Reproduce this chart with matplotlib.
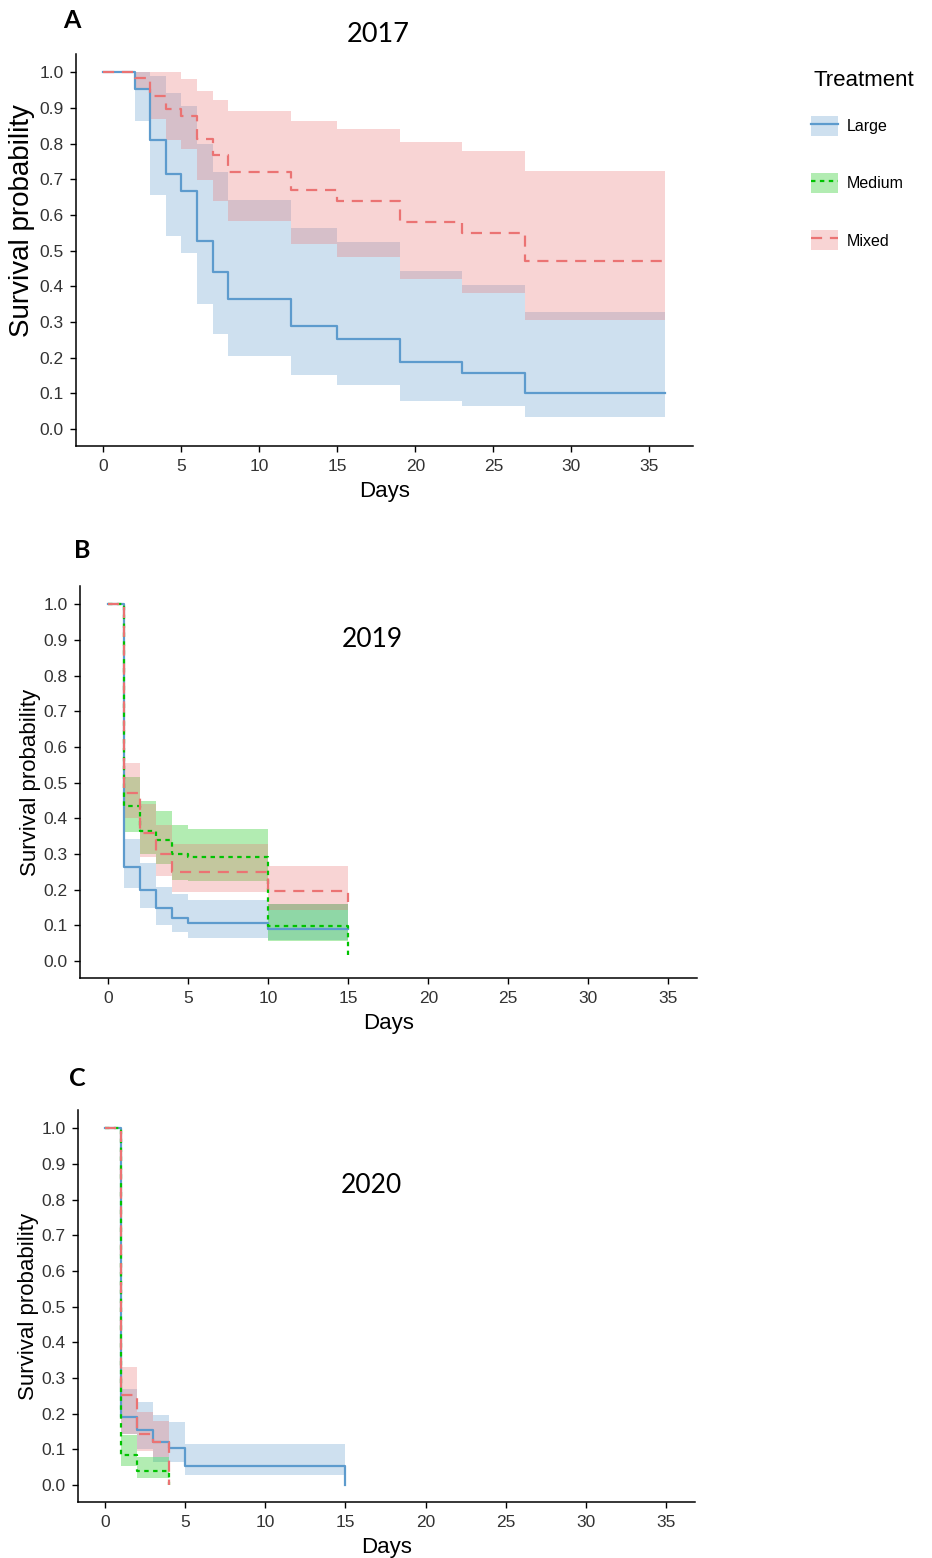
import numpy as np
import matplotlib
matplotlib.use('Agg')
import matplotlib.pyplot as plt
from matplotlib.patches import Patch
from matplotlib.lines import Line2D

# Kolory grup (ggsurvplot, alpha 0.3 dla przedzialow ufnosci)
kolory = {'Large': '#5D9BCD', 'Medium': '#00C300', 'Mixed': '#EB7373'}
style = {'Large': '-', 'Medium': (0, (2, 2)), 'Mixed': (0, (5, 3.5))}
grupy = ['Large', 'Medium', 'Mixed']
lata = ['2017', '2019', '2020']
litery = ['A', 'B', 'C']

# --- 2017 ---
a_large_t = [0, 2, 3, 4, 5, 6, 7, 8, 12, 15, 19, 23, 27, 36]
a_large_s = [1.0, 0.952, 0.810, 0.714, 0.667, 0.528, 0.441, 0.364, 0.289, 0.252, 0.188, 0.158, 0.100, 0.100]
a_large_up = [1.0, 1.0, 0.99, 0.941, 0.905, 0.798, 0.720, 0.642, 0.564, 0.525, 0.444, 0.403, 0.328, 0.328]
a_large_lo = [1.0, 0.864, 0.656, 0.542, 0.493, 0.350, 0.267, 0.205, 0.150, 0.123, 0.079, 0.063, 0.032, 0.032]

a_mixed_t = [0, 2, 3, 4, 5, 6, 7, 8, 12, 15, 19, 23, 27, 36]
a_mixed_s = [1.0, 0.984, 0.934, 0.896, 0.877, 0.812, 0.768, 0.720, 0.669, 0.639, 0.580, 0.549, 0.471, 0.471]
a_mixed_up = [1.0, 1.0, 1.0, 1.0, 0.980, 0.946, 0.922, 0.891, 0.862, 0.840, 0.805, 0.780, 0.722, 0.722]
a_mixed_lo = [1.0, 0.95, 0.869, 0.810, 0.785, 0.698, 0.640, 0.582, 0.519, 0.483, 0.420, 0.382, 0.306, 0.306]

# --- 2019 ---
b_large_t = [0, 1, 2, 3, 4, 5, 10, 15]
b_large_s = [1.0, 0.264, 0.200, 0.147, 0.121, 0.105, 0.088, 0.088]
b_large_up = [1.0, 0.343, 0.275, 0.208, 0.187, 0.170, 0.160, 0.160]
b_large_lo = [1.0, 0.203, 0.147, 0.100, 0.080, 0.065, 0.058, 0.058]

b_medium_t = [0, 1, 2, 3, 4, 5, 10, 15]
b_medium_s = [1.0, 0.434, 0.364, 0.340, 0.301, 0.290, 0.098, 0.016]
b_medium_up = [1.0, 0.516, 0.448, 0.420, 0.382, 0.369, 0.160, 0.0]
b_medium_lo = [1.0, 0.362, 0.301, 0.273, 0.228, 0.223, 0.055, 0.0]

b_mixed_t = [0, 1, 2, 3, 4, 10, 15]
b_mixed_s = [1.0, 0.472, 0.359, 0.301, 0.250, 0.196, 0.165]
b_mixed_up = [1.0, 0.555, 0.441, 0.382, 0.329, 0.267, 0.267]
b_mixed_lo = [1.0, 0.401, 0.292, 0.237, 0.193, 0.144, 0.144]

# --- 2020 ---
c_large_t = [0, 1, 2, 3, 4, 5, 15]
c_large_s = [1.0, 0.189, 0.154, 0.120, 0.103, 0.053, 0.0]
c_large_up = [1.0, 0.270, 0.231, 0.195, 0.175, 0.114, 0.0]
c_large_lo = [1.0, 0.142, 0.100, 0.065, 0.065, 0.027, 0.0]

c_medium_t = [0, 1, 2, 4]
c_medium_s = [1.0, 0.084, 0.039, 0.0]
c_medium_up = [1.0, 0.139, 0.077, 0.0]
c_medium_lo = [1.0, 0.053, 0.018, 0.0]

c_mixed_t = [0, 1, 2, 3, 4]
c_mixed_s = [1.0, 0.252, 0.142, 0.119, 0.0]
c_mixed_up = [1.0, 0.330, 0.204, 0.179, 0.0]
c_mixed_lo = [1.0, 0.142, 0.095, 0.077, 0.0]

dane = [
    {'Large': (a_large_t, a_large_s, a_large_up, a_large_lo),
     'Mixed': (a_mixed_t, a_mixed_s, a_mixed_up, a_mixed_lo)},
    {'Large': (b_large_t, b_large_s, b_large_up, b_large_lo),
     'Medium': (b_medium_t, b_medium_s, b_medium_up, b_medium_lo),
     'Mixed': (b_mixed_t, b_mixed_s, b_mixed_up, b_mixed_lo)},
    {'Large': (c_large_t, c_large_s, c_large_up, c_large_lo),
     'Medium': (c_medium_t, c_medium_s, c_medium_up, c_medium_lo),
     'Mixed': (c_mixed_t, c_mixed_s, c_mixed_up, c_mixed_lo)},
]

W, H = 932, 1558
fig = plt.figure(figsize=(W / 100, H / 100), dpi=100)


def px_axes(left, top, right, bottom):
    return fig.add_axes([left / W, 1 - bottom / H, (right - left) / W, (bottom - top) / H])


# polozenie osi w pikselach (lewo, gora, prawo, dol) i zakres x
uklad = [((76, 54, 693, 446), (-1.75, 37.8)),
         ((80, 586, 697, 978), (-1.77, 36.8)),
         ((78, 1110, 695, 1502), (-1.67, 36.8))]
polozenie_liter = [(72, 20), (82, 551), (77, 1078)]
rozmiar_ylabel = [20, 16, 16]
srodek_ylabel = [0.574, 0.5, 0.5]
x_ylabel = [-0.066, -0.063, -0.064]

font_os = 'Liberation Sans'
font_tytul = 'Lato'

osie = []
for i, ((l, t, r, b), xl) in enumerate(uklad):
    ax = px_axes(l, t, r, b)
    osie.append(ax)
    grupy_panelu = dane[i]
    # najpierw przedzialy ufnosci
    for g in grupy:
        if g not in grupy_panelu:
            continue
        tt, s, up, lo = grupy_panelu[g]
        ax.fill_between(tt, lo, up, step='post', color=kolory[g], alpha=0.3, linewidth=0)
    for g in grupy:
        if g not in grupy_panelu:
            continue
        tt, s, up, lo = grupy_panelu[g]
        ax.step(tt, s, where='post', color=kolory[g], linestyle=style[g], linewidth=1.6)

    ax.set_xlim(*xl)
    ax.set_ylim(-0.048, 1.051)
    ax.set_xticks(range(0, 36, 5))
    ax.set_yticks(np.arange(0, 1.01, 0.1))
    ax.set_yticklabels(['{:.1f}'.format(v) for v in np.arange(0, 1.01, 0.1)])
    for sp in ['top', 'right']:
        ax.spines[sp].set_visible(False)
    for sp in ['left', 'bottom']:
        ax.spines[sp].set_linewidth(1.1)
    ax.tick_params(direction='out', length=4, width=1.0, colors='black',
                   labelcolor='#333333', labelsize=12.5)
    ax.tick_params(axis='x', pad=5.5)
    ax.tick_params(axis='y', pad=5)
    for lab in ax.get_xticklabels() + ax.get_yticklabels():
        lab.set_fontfamily(font_os)
    ax.set_xlabel('Days', fontsize=16, family=font_os, labelpad=5)
    ax.set_ylabel('Survival probability', fontsize=rozmiar_ylabel[i], family=font_os)
    ax.yaxis.set_label_coords(x_ylabel[i], srodek_ylabel[i])

    lx, ly = polozenie_liter[i]
    fig.text(lx / W, 1 - ly / H, litery[i], fontsize=18, fontweight='bold',
             family=font_tytul, ha='center', va='center')

fig.text(378 / W, 1 - 34 / H, lata[0], fontsize=19.5, family=font_tytul, ha='center', va='center')
osie[1].text(16.5, 0.90, lata[1], fontsize=19, family=font_tytul, ha='center', va='center')
osie[2].text(16.6, 0.84, lata[2], fontsize=19, family=font_tytul, ha='center', va='center')

# legenda (tytul osobno, zeby ustawic odstep)
fig.text(864 / W, 1 - 80 / H, 'Treatment', fontsize=16, family=font_os, ha='center', va='center')
uchwyty = []
for g in grupy:
    uchwyty.append((Patch(facecolor=kolory[g], alpha=0.3, linewidth=0),
                    Line2D([], [], color=kolory[g], linestyle=style[g], linewidth=1.6)))
leg = fig.legend(uchwyty, grupy, loc='upper left', bbox_to_anchor=(803 / W, 1 - 108 / H),
                 frameon=False, handlelength=1.7, handleheight=1.55,
                 labelspacing=2.33, handletextpad=0.55, borderpad=0,
                 prop={'family': font_os, 'size': 11.5})

fig.savefig('out.png', dpi=100)
